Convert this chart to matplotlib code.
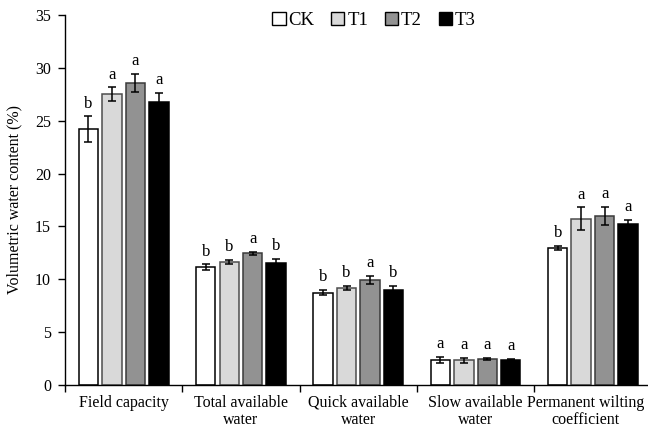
import numpy as np
import matplotlib.pyplot as plt
import matplotlib.transforms as mtransforms
from matplotlib.patches import Patch

plt.rcParams['font.family'] = ['Liberation Serif', 'DejaVu Serif']

categories = ['Field capacity', 'Total available\nwater', 'Quick available\nwater',
              'Slow available\nwater', 'Permanent wilting\ncoefficient']
treatments = ['CK', 'T1', 'T2', 'T3']

ck = [24.2, 11.15, 8.75, 2.35, 12.95]
t1 = [27.5, 11.6, 9.15, 2.35, 15.75]
t2 = [28.6, 12.45, 9.95, 2.45, 16.0]
t3 = [26.8, 11.5, 9.0, 2.4, 15.2]

ck_err = [1.2, 0.25, 0.22, 0.3, 0.18]
t1_err = [0.65, 0.2, 0.2, 0.25, 1.05]
t2_err = [0.85, 0.15, 0.35, 0.12, 0.88]
t3_err = [0.85, 0.4, 0.4, 0.05, 0.45]

ck_sig = ['b', 'b', 'b', 'a', 'b']
t1_sig = ['a', 'b', 'b', 'a', 'a']
t2_sig = ['a', 'a', 'a', 'a', 'a']
t3_sig = ['a', 'b', 'b', 'a', 'a']

series = [ck, t1, t2, t3]
errors = [ck_err, t1_err, t2_err, t3_err]
letters = [ck_sig, t1_sig, t2_sig, t3_sig]
fills = ['white', '#d9d9d9', '#929292', 'black']
edges = ['black', '#4d4d4d', '#3a3a3a', 'black']

fig = plt.figure(figsize=(6.48, 4.29), dpi=100)
ax = fig.add_axes([65 / 648, 1 - 385 / 429, 583 / 648, 370 / 429])

x = np.arange(len(categories))
step = 0.2
width = 0.165
for i, (vals, errs, sig) in enumerate(zip(series, errors, letters)):
    pos = x + (i - 1.5) * step
    ax.bar(pos, vals, width, color=fills[i], edgecolor=edges[i], linewidth=1.1, zorder=2)
    ax.errorbar(pos, vals, yerr=errs, fmt='none', ecolor='black', elinewidth=1.1,
                capsize=3.2, capthick=1.1, zorder=3)
    for p, v, e, s in zip(pos, vals, errs, sig):
        ax.annotate(s, (p, v + e), xytext=(0, 3.5), textcoords='offset points',
                    ha='center', va='bottom', fontsize=12)

ax.set_xlim(-0.5, 4.47)
ax.set_ylim(0, 35)
ax.set_yticks(np.arange(0, 36, 5))
ax.set_xticks(x)
ax.set_xticklabels(categories, fontsize=11.5, linespacing=1.1)
ax.set_xticks(np.arange(-0.5, 4.5, 1), minor=True)
ax.tick_params(axis='x', which='major', length=0, pad=7)
ax.tick_params(axis='x', which='minor', length=5, direction='out', width=1)
ax.tick_params(axis='y', length=5, direction='out', width=1, labelsize=11.5, pad=5)
ax.set_ylabel('Volumetric water content (%)', fontsize=11.5, labelpad=9)

# keep the last category label inside the figure edge
last = ax.get_xticklabels()[-1]
shift = mtransforms.ScaledTranslation(-5 / 72, 0, fig.dpi_scale_trans)
last.set_transform(last.get_transform() + shift)

for side in ['top', 'right']:
    ax.spines[side].set_visible(False)
for side in ['left', 'bottom']:
    ax.spines[side].set_linewidth(1)

handles = [Patch(facecolor=f, edgecolor='black', linewidth=1) for f in fills]
ax.legend(handles, treatments, loc='upper center', bbox_to_anchor=(0.53, 1.055),
          ncol=4, frameon=False, fontsize=13.5, handlelength=0.7, handleheight=0.7,
          handletextpad=0.15, columnspacing=0.9)

fig.savefig('out.png', dpi=100)
